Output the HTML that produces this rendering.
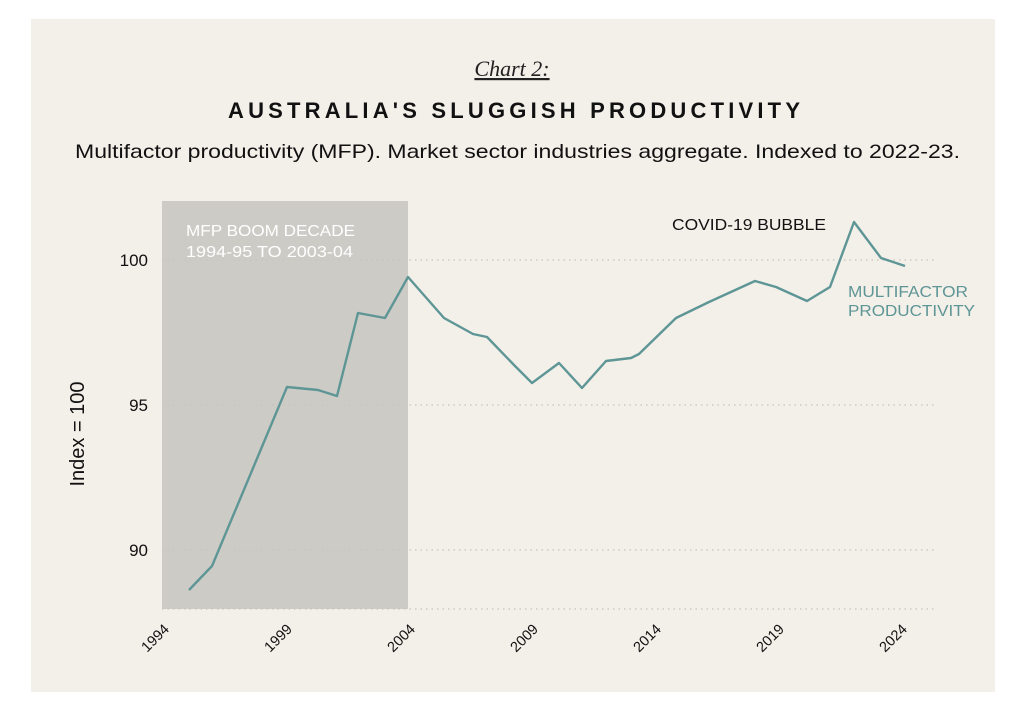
<!DOCTYPE html>
<html><head><meta charset="utf-8"><style>
html,body{margin:0;padding:0;background:#fff;}
svg{display:block;}
</style></head><body>
<svg width="1024" height="716" xmlns="http://www.w3.org/2000/svg" font-family="'Liberation Sans', sans-serif">
<rect x="31" y="19" width="964" height="673" fill="#f3efe9"/>
<text x="512" y="76" text-anchor="middle" font-family="'Liberation Serif', serif" font-style="italic" font-size="22" fill="#222" text-decoration="underline">Chart 2:</text>
<text x="228" y="118" font-size="22" font-weight="bold" textLength="572" lengthAdjust="spacing" fill="#111">AUSTRALIA'S SLUGGISH PRODUCTIVITY</text>
<text x="75" y="158" font-size="19.5" textLength="885" lengthAdjust="spacingAndGlyphs" fill="#111">Multifactor productivity (MFP). Market sector industries aggregate. Indexed to 2022-23.</text>
<rect x="162" y="201" width="246" height="408" fill="#cdcbc6"/>
<g stroke="#c8c4bd" stroke-width="1.2" stroke-dasharray="1.5,4">
<line x1="162" y1="260" x2="935" y2="260"/>
<line x1="162" y1="405" x2="935" y2="405"/>
<line x1="162" y1="550" x2="935" y2="550"/>
<line x1="162" y1="609" x2="935" y2="609"/>
</g>
<text x="186" y="236" font-size="15.5" textLength="169" lengthAdjust="spacingAndGlyphs" fill="#fff">MFP BOOM DECADE</text>
<text x="186" y="257" font-size="15.5" textLength="167" lengthAdjust="spacingAndGlyphs" fill="#fff">1994-95 TO 2003-04</text>
<g font-size="17" fill="#111" text-anchor="end">
<text x="148" y="266">100</text>
<text x="148" y="411">95</text>
<text x="148" y="556">90</text>
</g>
<text transform="translate(84,434) rotate(-90)" text-anchor="middle" font-size="20" fill="#111">Index = 100</text>
<g font-size="14.5" fill="#111" text-anchor="end">
<text transform="translate(170,630) rotate(-45)">1994</text>
<text transform="translate(293,630) rotate(-45)">1999</text>
<text transform="translate(416,630) rotate(-45)">2004</text>
<text transform="translate(539,630) rotate(-45)">2009</text>
<text transform="translate(662,630) rotate(-45)">2014</text>
<text transform="translate(785,630) rotate(-45)">2019</text>
<text transform="translate(908,630) rotate(-45)">2024</text>
</g>
<polyline fill="none" stroke="#5e9696" stroke-width="2.4" stroke-linejoin="round" points="189,590 212,566 287,387 318,390 337,396 358,313 385,318 408,277 444,318 473,334 487,337 514,365 532,383 559,363 582,388 606,361 631,358 639,354 676,318 709,302 755,281 776,287 807,301 830,287 854,222 881,258 905,266"/>
<text x="672" y="230" font-size="15.5" textLength="154" lengthAdjust="spacingAndGlyphs" fill="#111">COVID-19 BUBBLE</text>
<text x="848" y="297" font-size="16" textLength="120" lengthAdjust="spacingAndGlyphs" fill="#5e9696">MULTIFACTOR</text>
<text x="848" y="316" font-size="16" textLength="127" lengthAdjust="spacingAndGlyphs" fill="#5e9696">PRODUCTIVITY</text>
</svg>
</body></html>
